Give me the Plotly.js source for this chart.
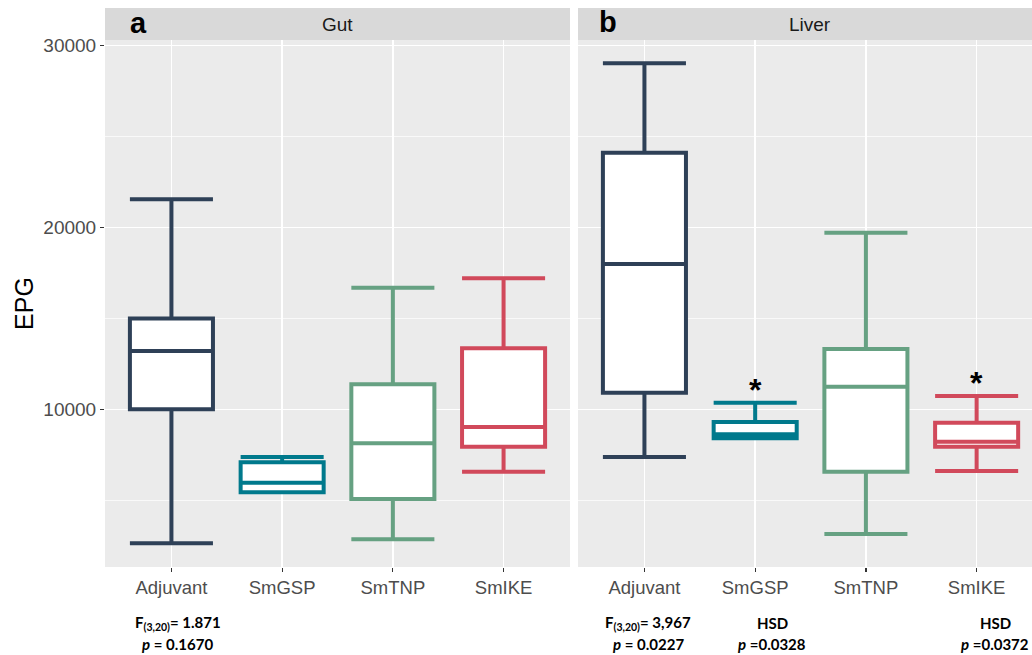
<!DOCTYPE html>
<html>
<head>
<meta charset="utf-8">
<script src="https://cdn.plot.ly/plotly-3.0.1.min.js"></script>
<style>html,body{margin:0;padding:0;background:#fff;}#chart{width:1032px;height:655px;}</style>
</head>
<body>
<div id="chart"></div>
<script>
// ---- data ----
const categories = ['Adjuvant', 'SmGSP', 'SmTNP', 'SmIKE'];
const colors = ['#2e4057', '#00798c', '#66a182', '#d1495b'];

const gutLower  = [2630, 5435, 2850, 6570];
const gutQ1     = [10000, 5435, 5070, 7945];
const gutMedian = [13210, 5965, 8130, 9030];
const gutQ3     = [15000, 7085, 11380, 13355];
const gutUpper  = [21550, 7380, 16690, 17205];

const liverLower  = [7380, 8405, 3140, 6605];
const liverQ1     = [10910, 8405, 6570, 7945];
const liverMedian = [17990, 8625, 11245, 8220];
const liverQ3     = [24110, 9300, 13320, 9265];
const liverUpper  = [29030, 10365, 19715, 10730];

const liverSignificant = [false, true, false, true];

const yTicks = [10000, 20000, 30000];
const yMinorTicks = [5000, 15000, 25000];

const gutStats = ['F<sub>(3,20)</sub>= 1.871', '<i>p</i> = 0.1670'];
const liverStats = ['F<sub>(3,20)</sub>= 3,967', '<i>p</i> = 0.0227'];
const liverHSD = [null, ['HSD', '<i>p</i> =0.0328'], null, ['HSD', '<i>p</i> =0.0372']];

// ---- traces ----
const traces = [];
function addPanel(lower, q1, med, q3, upper, xa, ya) {
  categories.forEach((c, i) => {
    traces.push({
      type: 'box', x: [i], q1: [q1[i]], median: [med[i]], q3: [q3[i]],
      lowerfence: [lower[i]], upperfence: [upper[i]],
      width: 0.75, whiskerwidth: 1, boxpoints: false,
      fillcolor: '#ffffff', line: {color: colors[i], width: 4},
      xaxis: xa, yaxis: ya, showlegend: false, hoverinfo: 'skip', name: c
    });
  });
}
addPanel(gutLower, gutQ1, gutMedian, gutQ3, gutUpper, 'x', 'y');
addPanel(liverLower, liverQ1, liverMedian, liverQ3, liverUpper, 'x2', 'y2');

// ---- layout ----
const W = 1032, H = 655, ML = 105, MR = 0, MT = 40, MB = 88;
const PW = W - ML - MR, PH = H - MT - MB;
const px = v => (v - ML) / PW;           // page px -> paper x
const py = v => (H - MB - v) / PH;       // page px -> paper y
const domA = [0, px(570)], domB = [px(578), 1];

const tickFont = {family: 'Liberation Sans, Arial, sans-serif', size: 19, color: '#4d4d4d'};
const yRange = [1326, 30314];

function xAxis(domain, range, anchor) {
  return {
    domain: domain, range: range, anchor: anchor, type: 'linear',
    tickvals: [0, 1, 2, 3], ticktext: categories,
    tickfont: Object.assign({}, tickFont, {size: 18.5}),
    showgrid: true, gridcolor: '#ffffff', gridwidth: 1.4, zeroline: false,
    ticks: 'outside', ticklen: 4, tickwidth: 1.2, tickcolor: '#333333', showline: false,
    fixedrange: true
  };
}
function yAxis(anchor, labels) {
  return {
    anchor: anchor, range: yRange, domain: [0, 1],
    tickvals: yTicks, tickformat: 'd', tickfont: tickFont,
    showticklabels: labels, ticks: labels ? 'outside' : '', ticklen: 4, tickwidth: 1.2, tickcolor: '#333333',
    showgrid: true, gridcolor: '#ffffff', gridwidth: 1.4, zeroline: false, showline: false,
    minor: {tickvals: yMinorTicks, showgrid: true, gridcolor: '#ffffff', gridwidth: 0.7, ticks: ''},
    fixedrange: true
  };
}

const layout = {
  width: W, height: H,
  margin: {l: ML, r: MR, t: MT, b: MB},
  paper_bgcolor: '#ffffff', plot_bgcolor: '#ebebeb',
  showlegend: false, boxmode: 'overlay',
  xaxis: xAxis(domA, [-0.6, 3.6], 'y'),
  xaxis2: xAxis(domB, [-0.6, 3.5], 'y2'),
  yaxis: Object.assign(yAxis('x', true), {
    title: {text: 'EPG', font: {family: 'Liberation Sans, Arial, sans-serif', size: 25, color: '#000000'}, standoff: 2}
  }),
  yaxis2: yAxis('x2', false),
  shapes: [
    {type: 'rect', xref: 'paper', yref: 'paper', x0: domA[0], x1: domA[1], y0: 1, y1: py(8), fillcolor: '#d9d9d9', line: {width: 0}, layer: 'below'},
    {type: 'rect', xref: 'paper', yref: 'paper', x0: domB[0], x1: domB[1], y0: 1, y1: py(8), fillcolor: '#d9d9d9', line: {width: 0}, layer: 'below'}
  ],
  annotations: []
};

const stripFont = {family: 'Liberation Sans, Arial, sans-serif', size: 19, color: '#1a1a1a'};
layout.annotations.push(
  {xref: 'paper', yref: 'paper', x: px(337.5), y: py(24), text: 'Gut', showarrow: false, font: stripFont, xanchor: 'center', yanchor: 'middle'},
  {xref: 'paper', yref: 'paper', x: px(810), y: py(24), text: 'Liver', showarrow: false, font: stripFont, xanchor: 'center', yanchor: 'middle'},
  {xref: 'paper', yref: 'paper', x: px(138), y: py(23), text: '<b>a</b>', showarrow: false, font: {family: 'Liberation Sans, Arial, sans-serif', size: 29, color: '#000'}, xanchor: 'center', yanchor: 'middle'},
  {xref: 'paper', yref: 'paper', x: px(608), y: py(22), text: '<b>b</b>', showarrow: false, font: {family: 'Liberation Sans, Arial, sans-serif', size: 29, color: '#000'}, xanchor: 'center', yanchor: 'middle'}
);

// significance stars above the liver whisker caps
liverSignificant.forEach((s, i) => {
  if (s) layout.annotations.push({
    xref: 'x2', yref: 'y2', x: i, y: liverUpper[i], text: '<b>*</b>', showarrow: false,
    font: {family: 'Liberation Sans, Arial, sans-serif', size: 32, color: '#000'},
    xanchor: 'center', yanchor: 'bottom', yshift: -7
  });
});

// statistics text under the panels
const statFont = {family: 'Lato, Carlito, sans-serif', size: 15, color: '#000'};
function stat(xpx, ypx, txt) {
  layout.annotations.push({xref: 'paper', yref: 'paper', x: px(xpx), y: py(ypx), text: '<b>' + txt + '</b>',
    showarrow: false, font: statFont, xanchor: 'center', yanchor: 'middle'});
}
stat(178, 623, gutStats[0]);
stat(177, 644, gutStats[1]);
stat(648, 623, liverStats[0]);
stat(648, 644, liverStats[1]);
const hsdX = [null, 772, null, 995];
liverHSD.forEach((h, i) => {
  if (h) { stat(hsdX[i], 623, h[0]); stat(hsdX[i], 644, h[1]); }
});

Plotly.newPlot('chart', traces, layout, {displayModeBar: false, staticPlot: true});
</script>
</body>
</html>
